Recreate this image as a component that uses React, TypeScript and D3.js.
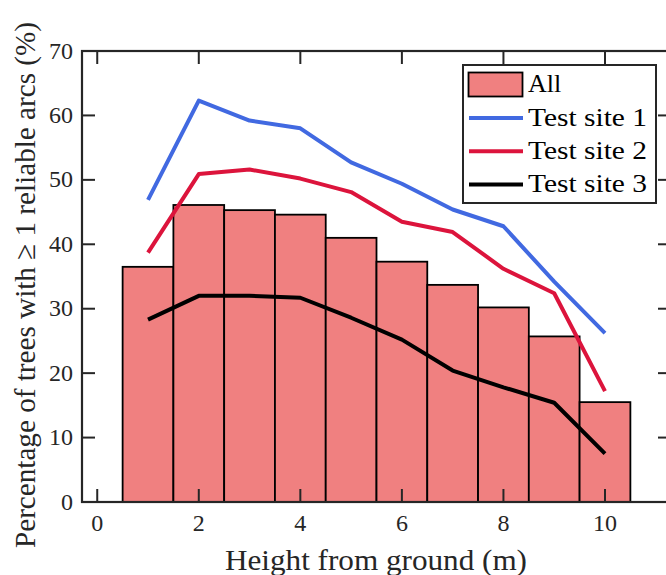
import React from "react";
import * as d3 from "d3";

const heights = [1, 2, 3, 4, 5, 6, 7, 8, 9, 10];
const allValues = [36.5, 46.1, 45.3, 44.6, 41.0, 37.3, 33.7, 30.2, 25.7, 15.5];
const site1 = [46.9, 62.3, 59.2, 58.0, 52.7, 49.4, 45.4, 42.8, 34.2, 26.2];
const site2 = [38.7, 50.9, 51.6, 50.2, 48.1, 43.5, 41.9, 36.2, 32.4, 17.2];
const site3 = [28.3, 32.0, 32.0, 31.7, 28.6, 25.2, 20.4, 17.8, 15.4, 7.5];
const xTicks = [0, 2, 4, 6, 8, 10];
const yTicks = [0, 10, 20, 30, 40, 50, 60, 70];
const seriesNames = ["Test site 1", "Test site 2", "Test site 3"];
const seriesColors = ["#4169E1", "#DC143C", "#000000"];

const W = 666;
const H = 575;
const FONT = "Liberation Serif, DejaVu Serif, serif";
const AX = "#262626";

export default function App() {
  const x = d3.scaleLinear().domain([-0.3, 11.3]).range([82, 671]);
  const y = d3.scaleLinear().domain([0, 70]).range([502, 51]);
  const line = d3
    .line<number>()
    .x((_, i) => x(heights[i]))
    .y((d) => y(d));
  const series = [site1, site2, site3];
  const tl = 13;
  const left = x.range()[0];
  const right = x.range()[1];
  const top = y.range()[1];
  const bottom = y.range()[0];
  const txt = { fontFamily: FONT } as React.CSSProperties;

  return (
    <div style={{ position: "absolute", left: 0, top: 0 }}>
      <svg width={W} height={H} style={{ display: "block" }}>
        <rect x={0} y={0} width={W} height={H} fill="#fff" />
        {heights.map((h, i) => (
          <rect
            key={h}
            x={x(h - 0.5)}
            y={y(allValues[i])}
            width={x(h + 0.5) - x(h - 0.5)}
            height={y(0) - y(allValues[i])}
            fill="#F08080"
            stroke="#000"
            strokeWidth={1.8}
          />
        ))}
        {series.map((s, k) => (
          <path
            key={k}
            d={line(s) || ""}
            fill="none"
            stroke={seriesColors[k]}
            strokeWidth={4}
            strokeLinejoin="round"
          />
        ))}
        <rect
          x={left}
          y={top}
          width={right - left}
          height={bottom - top}
          fill="none"
          stroke={AX}
          strokeWidth={2.2}
        />
        {xTicks.map((t) => (
          <g key={"xt" + t}>
            <line x1={x(t)} x2={x(t)} y1={bottom} y2={bottom - tl} stroke={AX} strokeWidth={2} />
            <line x1={x(t)} x2={x(t)} y1={top} y2={top + tl} stroke={AX} strokeWidth={2} />
            <text x={x(t)} y={bottom + 29} textAnchor="middle" style={txt} fontSize={24} fill="#262626">
              {t}
            </text>
          </g>
        ))}
        {yTicks.map((t) => (
          <g key={"yt" + t}>
            <line x1={left} x2={left + tl} y1={y(t)} y2={y(t)} stroke={AX} strokeWidth={2} />
            <line x1={right} x2={right - tl} y1={y(t)} y2={y(t)} stroke={AX} strokeWidth={2} />
            <text x={left - 9} y={y(t) + 7.5} textAnchor="end" style={txt} fontSize={24} fill="#262626">
              {t}
            </text>
          </g>
        ))}
        <text
          x={376}
          y={570}
          textAnchor="middle"
          style={txt}
          fontSize={30}
          fill="#262626"
          textLength={302}
          lengthAdjust="spacingAndGlyphs"
        >
          Height from ground (m)
        </text>
        <text
          transform={`translate(35, 285) rotate(-90)`}
          textAnchor="middle"
          style={txt}
          fontSize={30}
          fill="#262626"
          textLength={526}
          lengthAdjust="spacingAndGlyphs"
        >
          Percentage of trees with ≥ 1 reliable arcs (%)
        </text>
        <rect x={463} y={65} width={193} height={138} fill="#fff" stroke={AX} strokeWidth={2} />
        <rect x={468.5} y={72.5} width={54} height={24} fill="#F08080" stroke="#000" strokeWidth={1.8} />
        <text x={528} y={92} style={txt} fontSize={26} fill="#000">
          All
        </text>
        {seriesNames.map((n, k) => (
          <g key={n}>
            <line x1={469} x2={523} y1={118 + k * 33.2} y2={118 + k * 33.2} stroke={seriesColors[k]} strokeWidth={4} />
            <text
              x={528}
              y={126 + k * 33.2}
              style={txt}
              fontSize={26}
              fill="#000"
              textLength={119}
              lengthAdjust="spacingAndGlyphs"
            >
              {n}
            </text>
          </g>
        ))}
      </svg>
    </div>
  );
}
